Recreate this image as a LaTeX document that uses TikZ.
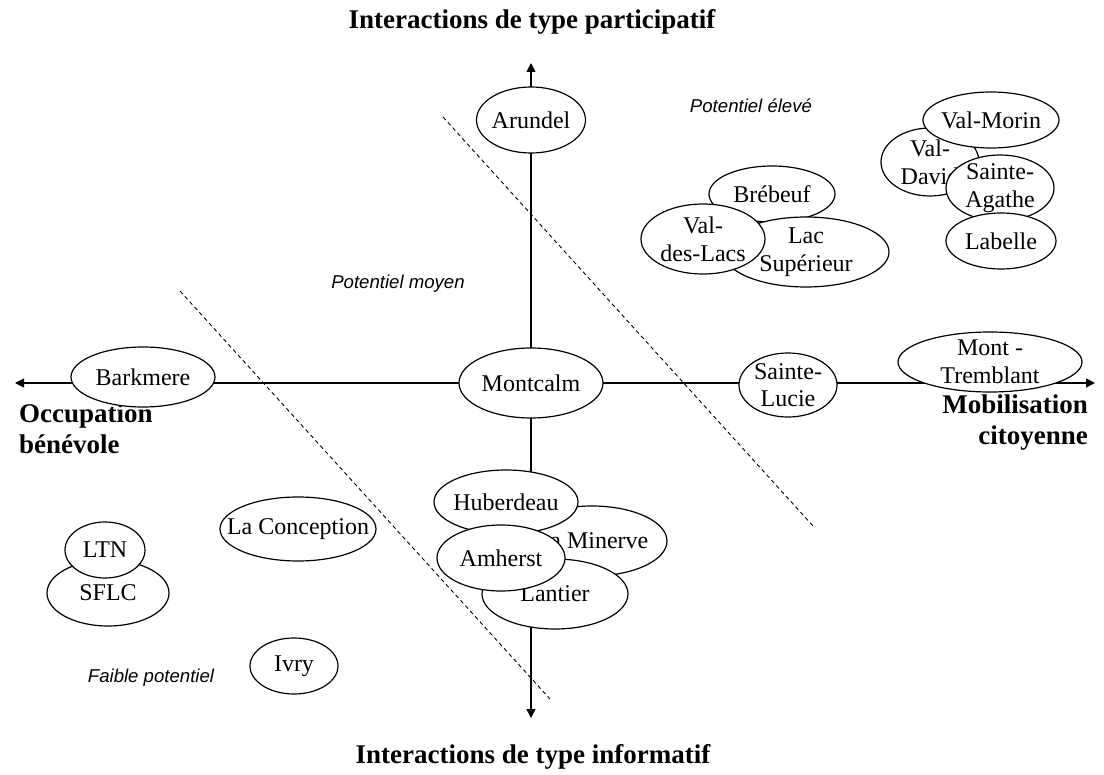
\documentclass[tikz,border=0pt]{standalone}
\usepackage{fontspec}
\setmainfont{Liberation Serif}
\newfontfamily\potfont{Liberation Sans}
\usetikzlibrary{shapes.geometric,arrows.meta}
\tikzset{
  town/.style 2 args={ellipse, draw, fill=white, line width=0.6pt, inner sep=0pt,
    minimum width=#1pt, minimum height=#2pt},
  every label/.style={align=center, inner sep=0pt, font=\fontsize{12}{13.8}\selectfont},
  axe/.style={line width=0.75pt, -{Triangle[length=4.5pt,width=4.5pt]}},
  zone/.style={line width=0.45pt, dash pattern=on 2pt off 1.6pt},
  pot/.style={font=\potfont\itshape\fontsize{9.3}{11}\selectfont},
  titre/.style={font=\bfseries\fontsize{13.5}{15.5}\selectfont}
}
\begin{document}
\begin{tikzpicture}[x=0.5pt,y=-0.5pt]
\useasboundingbox (0,0) rectangle (1104,775);
% axes
\coordinate (origine) at (531,383);
\coordinate (ouest) at (15,383);
\coordinate (est) at (1095,383);
\coordinate (nord) at (531,63);
\coordinate (sud) at (531,718);
\draw[axe] (origine) -- (ouest);
\draw[axe] (origine) -- (est);
\draw[axe] (origine) -- (nord);
\draw[axe] (origine) -- (sud);
% limites des zones
\coordinate (haut1) at (443,117);
\coordinate (bas1) at (813,526);
\coordinate (haut2) at (180,291);
\coordinate (bas2) at (550,699);
\draw[zone] (haut1) -- (bas1);
\draw[zone] (haut2) -- (bas2);
% titres des axes
\node[titre] (participatif) at (532,22) {Interactions de type participatif};
\node[titre] (informatif) at (533,757) {Interactions de type informatif};
\node[titre, anchor=west, align=left] (occupation) at (12,429) {Occupation\\b\'en\'evole};
\node[titre, anchor=east, align=right] (mobilisation) at (1095,423) {Mobilisation\\citoyenne};
% potentiels
\node[pot] (eleve) at (751,106) {Potentiel \'elev\'e};
\node[pot] (moyen) at (398,284) {Potentiel moyen};
\node[pot] (faible) at (151,678) {Faible potentiel};
% municipalites sur les axes
\node[town={54.5}{33}, label=center:Arundel] (arundel) at (531,120) {};
\node[town={72}{35}, label=center:Montcalm] (montcalm) at (531,383) {};
\node[town={72}{30}, label=center:Barkmere] (barkmere) at (143,377) {};
\node[town={49}{32}, label={center:Sainte-\\Lucie}] (lucie) at (788,385) {};
\node[town={92}{30}, label={center:Mont -\\Tremblant}] (tremblant) at (990,362) {};
% potentiel eleve
\node[town={63}{28}, label=center:Br\'ebeuf] (brebeuf) at (772,194) {};
\node[town={83}{35}, label={center:Lac\\Sup\'erieur}] (lacsup) at (806,252) {};
\node[town={62}{35}, label={center:Val-\\des-Lacs}] (valdeslacs) at (703,239) {};
\node[town={49}{34}, label={center:Val-\\David}] (valdavid) at (930,162) {};
\node[town={68}{28}, label=center:Val-Morin] (valmorin) at (991,120) {};
\node[town={54}{33}, label={center:Sainte-\\Agathe}] (agathe) at (1000,188) {};
\node[town={55}{28}, label=center:Labelle] (labelle) at (1001,241) {};
% bas de l'axe vertical
\node[town={75}{35}, label=center:La Minerve] (minerve) at (592,541) {};
\node[town={72}{32}, label=center:Huberdeau] (huberdeau) at (506,502) {};
\node[town={73}{35}, label=center:Lantier] (lantier) at (555,594) {};
\node[town={64}{33}, label=center:Amherst] (amherst) at (501,558) {};
% faible potentiel
\node[town={78}{32}, label=center:La Conception] (conception) at (298,529) {};
\node[town={61}{33}, label=center:SFLC] (sflc) at (108,593) {};
\node[town={40}{28}, label=center:LTN] (ltn) at (105,550) {};
\node[town={44}{28}, label=center:Ivry] (ivry) at (294,666) {};
\end{tikzpicture}
\end{document}
